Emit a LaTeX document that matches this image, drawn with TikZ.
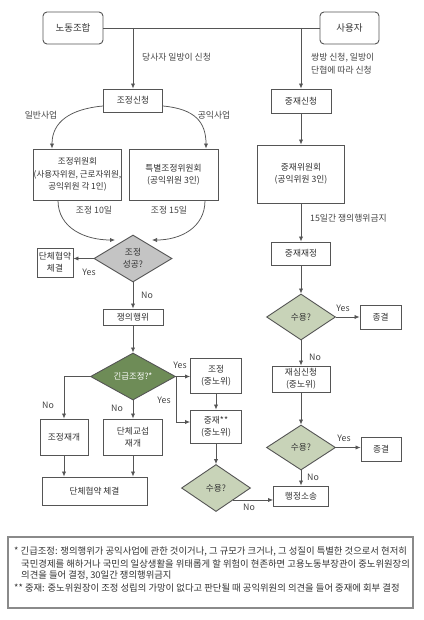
\documentclass[tikz,border=0pt]{standalone}
\usepackage{fontspec}
\setmainfont{Noto Sans CJK KR}
\usetikzlibrary{arrows.meta,shapes.geometric,calc}
\definecolor{bd}{HTML}{555555}
\definecolor{txt}{HTML}{333333}
\definecolor{lbl}{HTML}{444444}
\definecolor{grayfill}{HTML}{C4C4C4}
\definecolor{sage}{HTML}{C8D3B8}
\definecolor{darkgreen}{HTML}{6E8C57}
\definecolor{notebd}{HTML}{8A8A8A}
\begin{document}
\begin{tikzpicture}[x=1pt,y=-1pt,
  every node/.style={font=\fontsize{8.7}{12.4}\selectfont, text=txt, inner sep=0pt},
  sz/.style 2 args={minimum width=#1, minimum height=#2},
  box/.style={draw=bd, line width=0.9pt, fill=white, align=center},
  rbox/.style={box, rounded corners=4pt, font=\fontsize{9.5}{12}\selectfont},
  dia/.style={diamond, draw=bd, line width=0.9pt, align=center},
  lab/.style={font=\fontsize{8.8}{12.6}\selectfont, text=lbl, align=left},
  note/.style={font=\fontsize{9.35}{11}\selectfont, text=txt, anchor=west},
  conn/.style={draw=bd, line width=0.75pt},
  arr/.style={conn, -{Latex[length=5pt,width=4.2pt]}}
]
\useasboundingbox (0,0) rectangle (423,620);
\fill[white] (0,0) rectangle (423,620);

% top parties
\node[rbox, sz={60pt}{32pt}] (union) at (73,28) {노동조합};
\node[rbox, sz={59pt}{32pt}] (emp) at (349.5,28) {사용자};
\draw[conn] (union.east) -- (emp.west);

% left column
\node[box, sz={59pt}{23pt}] (mreq) at (133,100.5) {조정신청};
\node[box, sz={60pt}{24pt}] (areq) at (301,101) {중재신청};
\draw[arr] (mreq.north |- union.east) -- (mreq.north);
\draw[arr] (areq.north |- emp.west) -- (areq.north);
\node[lab, anchor=west] (l1) at (142,57) {당사자 일방이 신청};
\node[lab, anchor=west] (l2) at (311,63.5) {쌍방 신청, 일방이\\단협에 따라 신청};

\node[box, sz={83pt}{51pt}, font=\fontsize{8.5}{12.3}\selectfont] (mc) at (77.5,174.5) {조정위원회\\(사용자위원, 근로자위원,\\공익위원 각 1인)};
\node[box, sz={89pt}{51pt}] (smc) at (173.5,174.5) {특별조정위원회\\(공익위원 3인)};
\draw[arr] ($(mreq.west)+(0,5.5)$) .. controls (70,109) and (52,122) .. ([xshift=-25.5pt]mc.north);
\draw[arr] ($(mreq.east)+(0,5.5)$) .. controls (195,109) and (206,122) .. ([xshift=32.5pt]smc.north);
\node[lab] (l3) at (41,115) {일반사업};
\node[lab] (l4) at (214,115) {공익사업};

\node[dia, fill=grayfill, sz={78pt}{47pt}] (d1) at (133,258.5) {조정\\성공?};
\coordinate (c1) at (115,240);
\coordinate (c2) at (152,240);
\draw[arr] ([xshift=-19.5pt]mc.south) .. controls (58,228) and (85,240) .. (c1);
\draw[arr] ([xshift=31.5pt]smc.south) .. controls (205,228) and (180,240) .. (c2);
\node[lab] (l5) at (94,210) {조정 10일};
\node[lab] (l6) at (169,210) {조정 15일};

\node[box, sz={36pt}{29pt}] (ca1) at (55,262.5) {단체협약\\체결};
\draw[arr] (d1.west) -- (d1.west -| ca1.east);
\node[lab] (l7) at (89,272) {Yes};

\node[box, sz={60pt}{16pt}] (disp) at (133,317) {쟁의행위};
\draw[arr] (d1.south) -- (disp.north);
\node[lab] (l8) at (147,295) {No};

\node[dia, fill=darkgreen, sz={85pt}{47pt}, font=\fontsize{8.4}{12}\selectfont] (d2) at (133,376.5) {\textcolor{white}{긴급조정?*}};
\draw[arr] (disp.south) -- (d2.north);

\node[box, sz={48pt}{36pt}] (rs) at (64,437) {조정재개};
\node[box, sz={59pt}{36pt}] (br) at (133,437) {단체교섭\\재개};
\draw[arr] (d2.west) -| (rs.north);
\draw[arr] (d2.south) -- (br.north);
\node[lab] (l9) at (48,405) {No};
\node[lab] (l10) at (117,408) {No};

\node[box, sz={105pt}{28pt}] (ca2) at (94.5,491) {단체협약 체결};
\draw[arr] (rs.south) -- (rs.south |- ca2.north);
\draw[arr] (br.south) -- (br.south |- ca2.north);

\node[box, sz={51pt}{35pt}] (mcn) at (216,375.5) {조정\\(중노위)};
\node[box, sz={51pt}{33pt}] (arb) at (216,426.5) {중재**\\(중노위)};
\draw[arr] (d2.east) -- (d2.east -| mcn.west);
\draw[arr] (d2.east) |- ([yshift=4.5pt]arb.west);
\draw[arr] (mcn.south) -- (arb.north);
\node[lab] (l11) at (180,365) {Yes};
\node[lab] (l12) at (164,400) {Yes};

\node[dia, fill=sage, sz={69pt}{47pt}] (d3) at (216,488) {수용?};
\draw[arr] (arb.south) -- (d3.north);

% right column
\node[box, sz={87pt}{58pt}] (ac) at (301,174) {중재위원회\\(공익위원 3인)};
\draw[arr] (areq.south) -- (ac.north);
\node[box, sz={59pt}{23pt}] (ad) at (301,253.5) {중재재정};
\draw[arr] (ac.south) -- (ad.north);
\node[lab, anchor=west] (l13) at (310,218) {15일간 쟁의행위금지};

\node[dia, fill=sage, sz={69pt}{46pt}] (d4) at (301,317) {수용?};
\draw[arr] (ad.south) -- (d4.north);
\node[box, sz={41pt}{24pt}] (end1) at (380.5,317) {종결};
\draw[arr] (d4.east) -- (end1.west);
\node[lab] (l14) at (343,308) {Yes};

\node[box, sz={58pt}{26pt}] (re) at (301,379) {재심신청\\(중노위)};
\draw[arr] (d4.south) -- (re.north);
\node[lab] (l15) at (315,357) {No};

\node[dia, fill=sage, sz={69pt}{45pt}] (d5) at (301,447.5) {수용?};
\draw[arr] (re.south) -- (d5.north);
\node[box, sz={40pt}{24pt}] (end2) at (381,449) {종결};
\draw[arr] (d5.east) -- (d5.east -| end2.west);
\node[lab] (l16) at (344,438) {Yes};

\node[box, sz={55pt}{20pt}] (hs) at (301,496) {행정소송};
\draw[arr] (d5.south) -- (hs.north);
\node[lab] (l17) at (313,477) {No};
\draw[arr] (d3.south east) -- (d3.south east -| hs.west);
\node[lab] (l18) at (249,507) {No};

% footnote
\node[draw=notebd, line width=1.3pt, sz={405pt}{71pt}] (notes) at (210.5,572.5) {};
\node[note] (n1) at (14,552) {* 긴급조정: 쟁의행위가 공익사업에 관한 것이거나, 그 규모가 크거나, 그 성질이 특별한 것으로서 현저히};
\node[note] (n2) at (21,564) {국민경제를 해하거나 국민의 일상생활을 위태롭게 할 위험이 현존하면 고용노동부장관이 중노위원장의};
\node[note] (n3) at (21,575.5) {의견을 들어 결정, 30일간 쟁의행위금지};
\node[note] (n4) at (14,588) {** 중재: 중노위원장이 조정 성립의 가망이 없다고 판단될 때 공익위원의 의견을 들어 중재에 회부 결정};
\end{tikzpicture}
\end{document}
